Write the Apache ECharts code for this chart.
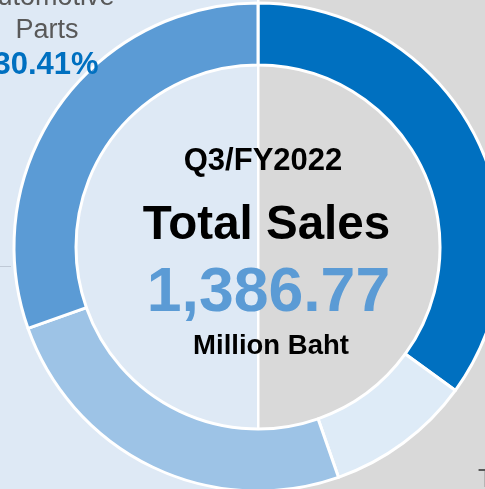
<!DOCTYPE html>
<html>
<head>
<meta charset="utf-8">
<script src="https://cdn.jsdelivr.net/npm/echarts@6/dist/echarts.min.js"></script>
<style>
html,body{margin:0;padding:0;background:#d9d9d9;}
#c{width:485px;height:489px;}
</style>
</head>
<body>
<div id="c"></div>
<script>
// Data (clockwise from 12 o'clock)
const categories = ['Segment A', 'Segment B', 'Segment C', 'Automotive Parts'];
const shares = [35.00, 9.65, 24.94, 30.41];
const colors = ['#0070c0', '#deebf7', '#9dc3e6', '#5b9bd5'];
const periodLabel = 'Q3/FY2022';
const titleLabel = 'Total Sales';
const totalValue = '1,386.77';
const unitLabel = 'Million Baht';
const shownLabelName = ['Automotive', 'Parts'];
const shownLabelPct = '30.41%';

const chart = echarts.init(document.getElementById('c'), null, {renderer: 'canvas'});
const FONT = '"Liberation Sans", Arial, sans-serif';

chart.setOption({
  animation: false,
  backgroundColor: '#d9d9d9',
  graphic: [
    {type: 'rect', z: -10, shape: {x: 0, y: 0, width: 257, height: 489}, style: {fill: '#dee9f5'}},
    {type: 'rect', z: -10, shape: {x: 257, y: 0, width: 2.5, height: 489}, style: {fill: '#ffffff'}},
    {type: 'line', z: -5, shape: {x1: 0, y1: 266.5, x2: 11, y2: 266.5}, style: {stroke: '#bfc9d6', lineWidth: 1}},
    {type: 'text', z: 100, x: 47, y: -2, style: {text: shownLabelName[0], font: '27px ' + FONT, fill: '#595959', align: 'center', verticalAlign: 'middle'}},
    {type: 'text', z: 100, x: 47, y: 30.5, style: {text: shownLabelName[1], font: '27px ' + FONT, fill: '#595959', align: 'center', verticalAlign: 'middle'}},
    {type: 'text', z: 100, x: 46, y: 65, style: {text: shownLabelPct, font: 'bold 31px ' + FONT, fill: '#0070c0', align: 'center', verticalAlign: 'middle'}},
    {type: 'text', z: 100, x: 478, y: 480, style: {text: 'T', font: '26px ' + FONT, fill: '#595959', align: 'left', verticalAlign: 'middle'}},
    {type: 'text', z: 100, x: 263, y: 161.5, style: {text: periodLabel, font: 'bold 31px ' + FONT, fill: '#000000', align: 'center', verticalAlign: 'middle'}},
    {type: 'text', z: 100, x: 266.5, y: 226, style: {text: titleLabel, font: 'bold 47.5px ' + FONT, fill: '#000000', align: 'center', verticalAlign: 'middle'}},
    {type: 'text', z: 100, x: 268.5, y: 294, style: {text: totalValue, font: 'bold 62.5px ' + FONT, fill: '#5b9bd5', align: 'center', verticalAlign: 'middle'}},
    {type: 'text', z: 100, x: 271, y: 346, style: {text: unitLabel, font: 'bold 27.5px ' + FONT, fill: '#000000', align: 'center', verticalAlign: 'middle'}}
  ],
  series: [{
    type: 'pie',
    center: [258, 247],
    radius: [182, 244],
    startAngle: 90,
    clockwise: true,
    silent: true,
    label: {show: false},
    labelLine: {show: false},
    itemStyle: {borderColor: '#ffffff', borderWidth: 3},
    data: categories.map((n, i) => ({name: n, value: shares[i], itemStyle: {color: colors[i]}}))
  }]
});
</script>
</body>
</html>
